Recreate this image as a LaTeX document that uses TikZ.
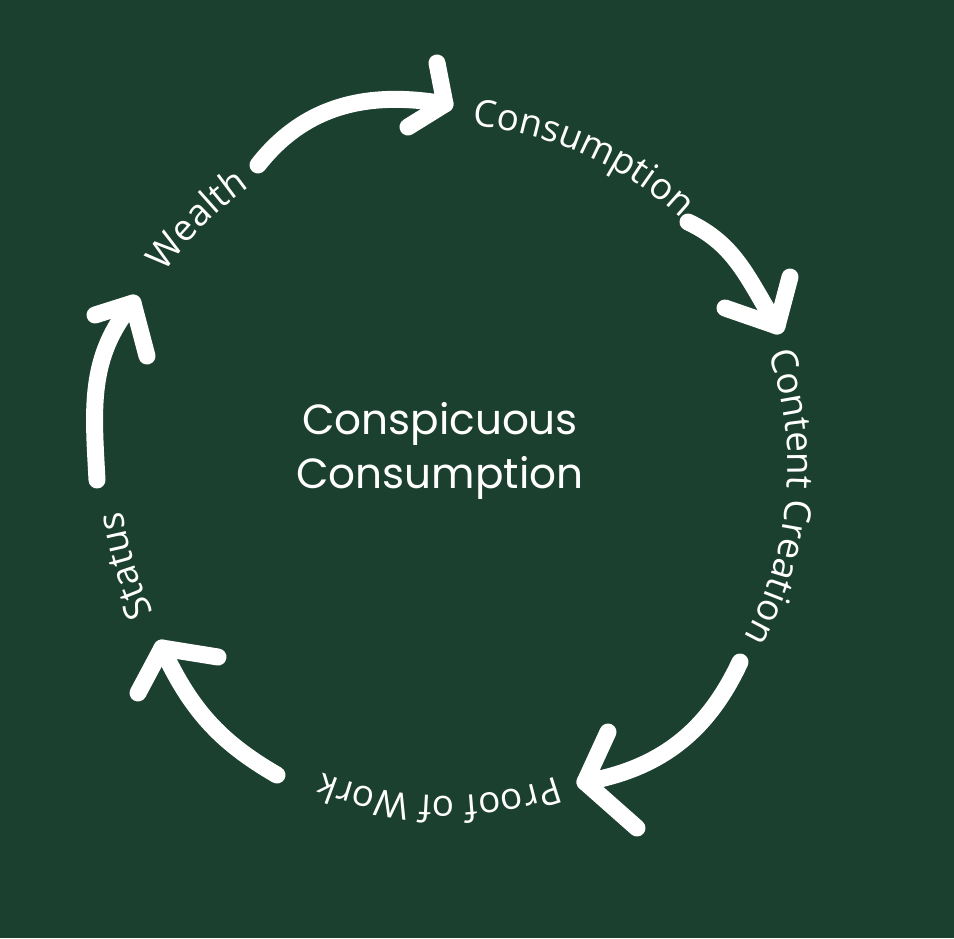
\documentclass[tikz,border=0pt]{standalone}
\usepackage{fontspec}
\setmainfont{Poppins}
\newfontfamily\handfont{Open Sans}
\usetikzlibrary{calc,decorations.text}
\definecolor{board}{HTML}{1C402F}
\newcommand\lblfont{\handfont\fontsize{21}{24}\selectfont}

\begin{document}
\begin{tikzpicture}[x=0.02cm,y=0.02cm]
  % Styles local to this figure.
  \tikzset{
    chalk/.style={draw=white,line width=0.34cm,line cap=round,line join=round},
    arclabel/.style={decorate,decoration={text along path,text align=center,
      text color=white,text={|\lblfont|#1}}}
  }

  % Board and centre of the cycle.
  \fill[board] (0,0) rectangle (954,-938);
  \coordinate (c) at (445,-468);
  \node[text=white,font=\fontsize{24}{31}\selectfont,align=center] (title) at (440,-451) {Conspicuous\\Consumption};

  % Stage labels, set clockwise round the centre.
  \path[arclabel=Consumption] ($(c)+(100:343)$) arc[start angle=100,end angle=32,radius=343];
  \path[arclabel=Content Creation] ($(c)+(45:343)$) arc[start angle=45,end angle=-55,radius=343];
  \path[arclabel=Proof of Work] ($(c)+(-45:328)$) arc[start angle=-45,end angle=-137,radius=328];
  \path[arclabel=Status] ($(c)+(232:325)$) arc[start angle=232,end angle=162,radius=325];
  \path[arclabel=Wealth] ($(c)+(170:342)$) arc[start angle=170,end angle=100,radius=342];

  % Wealth -> Consumption.
  \coordinate (a1s) at (258,-165);
  \coordinate (a1t) at (445,-104);
  \coordinate (a1u) at (437,-63);
  \coordinate (a1d) at (408,-127);
  \draw[chalk] (a1s) to[out=52,in=170] (a1t);
  \draw[chalk] (a1u) -- (a1t) -- (a1d);

  % Consumption -> Content Creation.
  \coordinate (a2s) at (688,-222);
  \coordinate (a2t) at (777,-326);
  \coordinate (a2u) at (790,-277);
  \coordinate (a2d) at (725,-308);
  \draw[chalk] (a2s) to[out=-25,in=122] (a2t);
  \draw[chalk] (a2u) -- (a2t) -- (a2d);

  % Content Creation -> Proof of Work.
  \coordinate (a3s) at (740,-662);
  \coordinate (a3t) at (585,-782);
  \coordinate (a3u) at (608,-732);
  \coordinate (a3d) at (637,-828);
  \draw[chalk] (a3s) to[out=-115,in=10] (a3t);
  \draw[chalk] (a3u) -- (a3t) -- (a3d);

  % Proof of Work -> Status.
  \coordinate (a4s) at (277,-775);
  \coordinate (a4t) at (162,-648);
  \coordinate (a4u) at (218,-657);
  \coordinate (a4d) at (138,-693);
  \draw[chalk] (a4s) to[out=150,in=-65] (a4t);
  \draw[chalk] (a4u) -- (a4t) -- (a4d);

  % Status -> Wealth.
  \coordinate (a5s) at (97,-480);
  \coordinate (a5t) at (133,-303);
  \coordinate (a5u) at (95,-315);
  \coordinate (a5d) at (147,-356);
  \draw[chalk] (a5s) to[out=93,in=-130] (a5t);
  \draw[chalk] (a5u) -- (a5t) -- (a5d);
\end{tikzpicture}
\end{document}
